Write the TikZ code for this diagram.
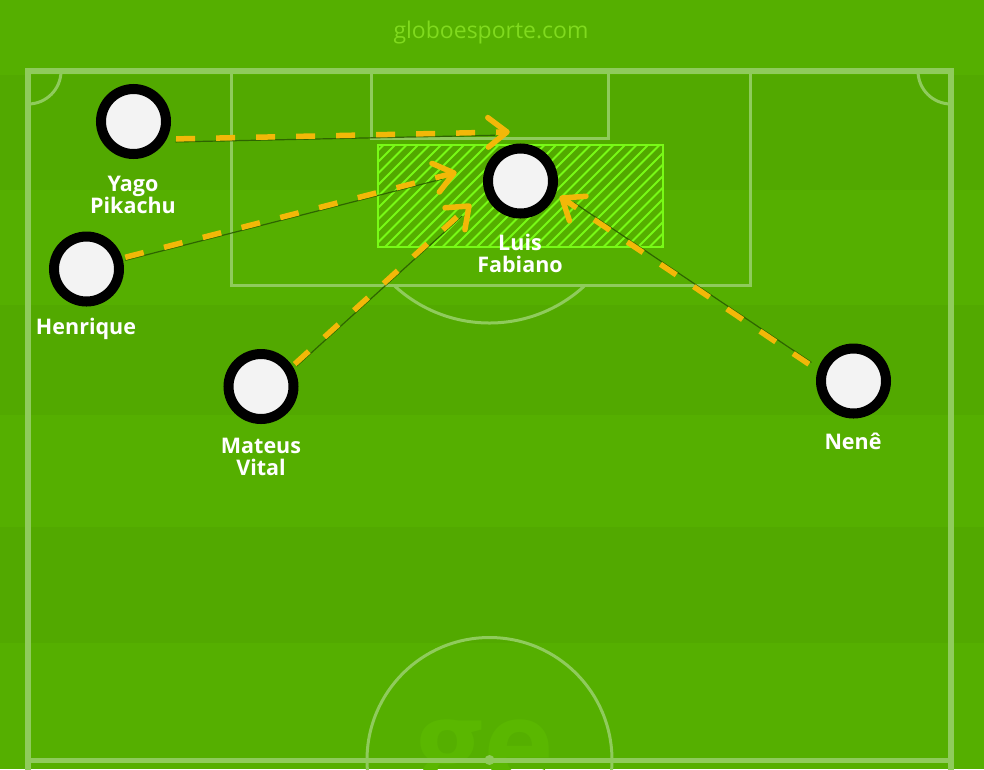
\documentclass[tikz,border=0pt]{standalone}
\usepackage{fontspec}
\setmainfont{Open Sans}
\usetikzlibrary{calc}
\definecolor{grassL}{RGB}{85,175,0}
\definecolor{grassD}{RGB}{82,169,0}
\definecolor{lineG}{RGB}{143,203,92}
\definecolor{limeG}{RGB}{120,250,22}
\definecolor{goldA}{RGB}{242,184,8}
\definecolor{shadowG}{RGB}{40,88,0}
\definecolor{logoG}{RGB}{128,218,30}
\definecolor{wmG}{RGB}{90,183,0}
\definecolor{discW}{RGB}{243,243,243}
\begin{document}
\begin{tikzpicture}[x=1pt,y=-1pt,
  pitchthick/.style={draw=lineG, line width=6pt},
  pitchthin/.style={draw=lineG, line width=3pt},
  player/.style={circle, draw=black, line width=10pt, fill=discW, minimum size=65pt, inner sep=0pt},
  pname/.style={text=white, font=\bfseries\fontsize{21.5}{22}\selectfont, align=center, inner sep=0pt},
  pass/.style={draw=goldA, line width=5.5pt, dash pattern=on 19pt off 21pt, shorten >=2pt},
  chevron/.style={draw=goldA, line width=5.5pt, line cap=round, line join=round},
  shadowline/.style={draw=shadowG, line width=1.2pt, opacity=0.85}]
\useasboundingbox (0,0) rectangle (984,769);
% grass bands
\fill[grassL] (0,0) rectangle (984,769);
\fill[grassD] (0,75) rectangle (984,190);
\fill[grassD] (0,305) rectangle (984,415);
\fill[grassD] (0,527) rectangle (984,643);
% watermark
\node[font=\bfseries\fontsize{120}{120}\selectfont, text=wmG, anchor=base, inner sep=0pt] (wm) at (485,786) {ge};
% pitch lines
\draw[pitchthick] (28,775) -- (28,71) -- (951,71) -- (951,775);
\draw[draw=lineG, line width=5pt] (28,760) -- (951,760);
\draw[pitchthin] (231,71) -- (231,285) -- (750,285) -- (750,71);
\draw[pitchthin] (371,71) -- (371,138) -- (608,138) -- (608,71);
\draw[pitchthin] (585.4,285) arc[start angle=46.76, end angle=133.24, radius=140];
\draw[pitchthin] (61,71) arc[start angle=0, end angle=90, radius=33];
\draw[pitchthin] (951,104) arc[start angle=90, end angle=180, radius=33];
\draw[pitchthin] (489.5,760) circle[radius=122.5];
\fill[lineG] (489.5,760) circle[radius=5];
% hatched zone
\begin{scope}
  \clip (378,145) rectangle (663,247);
  \foreach \i in {0,...,36} {
    \draw[limeG, line width=1.8pt] (270+\i*11.5,247) -- ++(102,-102);
  }
\end{scope}
\draw[limeG, line width=2pt] (378,145) rectangle (663,247);
% players
\node[player] (yago) at (133.5,121.5) {};
\node[player] (henrique) at (86.5,269) {};
\node[player] (mateus) at (261,386.5) {};
\node[player] (nene) at (853.5,381) {};
% arrow tips
\coordinate (tipA) at (507,132);
\coordinate (tipB) at (454,173);
\coordinate (tipC) at (469,206);
\coordinate (tipD) at (562,198);
% shadow lines
\draw[shadowline, shorten <=9pt, shorten >=12pt] ([yshift=-3pt]yago.-28) -- ([yshift=-3pt]tipA);
\draw[shadowline, shorten <=3pt, shorten >=12pt] ([yshift=-3pt]henrique.17) -- ([yshift=-3pt]tipB);
\draw[shadowline, shorten <=3pt, shorten >=12pt] ([xshift=2pt,yshift=-2pt]mateus.33) -- ([xshift=2pt,yshift=-2pt]tipC);
\draw[shadowline, shorten <=10pt, shorten >=12pt] ([xshift=2pt,yshift=2pt]nene.163) -- ([xshift=2pt,yshift=2pt]tipD);
% passes
\draw[pass, shorten <=9.5pt] (yago.-28) -- (tipA);
\draw[pass, shorten <=3pt] (henrique.17) -- (tipB);
\draw[pass, shorten <=3pt] (mateus.33) -- (tipC);
\draw[pass, shorten <=10.5pt] (nene.163) -- (tipD);
% arrow heads
\draw[chevron] ($(tipA)!24pt!38:(yago.-28)$) -- (tipA) -- ($(tipA)!24pt!-38:(yago.-28)$);
\draw[chevron] ($(tipB)!24pt!38:(henrique.17)$) -- (tipB) -- ($(tipB)!24pt!-38:(henrique.17)$);
\draw[chevron] ($(tipC)!24pt!38:(mateus.33)$) -- (tipC) -- ($(tipC)!24pt!-38:(mateus.33)$);
\draw[chevron] ($(tipD)!24pt!38:(nene.163)$) -- (tipD) -- ($(tipD)!24pt!-38:(nene.163)$);
% target player
\node[player] (luis) at (520.5,181) {};
% names
\node[pname] (yagoL) at (133,195) {Yago\\Pikachu};
\node[pname] (henriqueL) at (86,329) {Henrique};
\node[pname] (luisL) at (520,253) {Luis\\Fabiano};
\node[pname] (mateusL) at (261,457) {Mateus\\Vital};
\node[pname] (neneL) at (853,441) {Nenê};
% logo
\node[font=\fontsize{23}{26}\selectfont, text=logoG, anchor=base, inner sep=0pt] (logo) at (491,38) {globoesporte.com};
\end{tikzpicture}
\end{document}
